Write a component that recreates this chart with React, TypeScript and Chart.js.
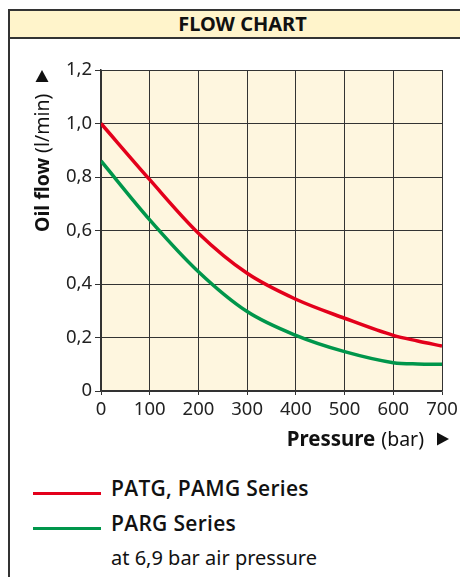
import React, { useEffect, useRef } from "react";
import { Chart, registerables } from "chart.js";

Chart.register(...registerables);

// ---- data ----
const pressure = [0, 100, 200, 300, 400, 500, 600, 650, 700];
const patgFlow = [1.0, 0.79, 0.59, 0.44, 0.343, 0.272, 0.208, 0.187, 0.168];
const pargFlow = [0.86, 0.64, 0.446, 0.297, 0.208, 0.147, 0.106, 0.101, 0.1];
const xTickLabels = ["0", "100", "200", "300", "400", "500", "600", "700"];
const yTickLabels = ["0", "0,2", "0,4", "0,6", "0,8", "1,0", "1,2"];
const seriesNames = ["PATG, PAMG Series", "PARG Series"];
const noteText = "at 6,9 bar air pressure";
const headerText = "FLOW CHART";
const xTitleBold = "Pressure";
const xTitleUnit = "(bar)";
const yTitleBold = "Oil flow";
const yTitleUnit = "(l/min)";

const RED = "#E3001B";
const GREEN = "#00964B";
const FAMILY = "'Noto Sans', 'DejaVu Sans', sans-serif";
const LEGEND_FAMILY = "'Open Sans', 'Noto Sans', sans-serif";
const TICK_FS = 18.5;
const TITLE_FS = 19.5;
const BORDER = "#333";
const PLOT_BG = "#FEF6DF";
const HEADER_BG = "#FFF4CB";

const CANVAS_W = 458;
const CANVAS_H = 422;

const bgPlugin = {
  id: "plotBg",
  beforeDraw(chart: any) {
    const { ctx, chartArea } = chart;
    ctx.save();
    ctx.fillStyle = PLOT_BG;
    ctx.fillRect(chartArea.left, chartArea.top, chartArea.right - chartArea.left, chartArea.bottom - chartArea.top);
    ctx.restore();
  },
};

const titlePlugin = {
  id: "axisTitles",
  afterDraw(chart: any) {
    const { ctx, chartArea } = chart;
    ctx.save();
    ctx.fillStyle = "#111";
    ctx.textBaseline = "alphabetic";
    // x title, right aligned with arrow
    const tipX = chartArea.right + 7;
    const triH = 12;
    const triB = 13;
    const baseY = chartArea.bottom + 55;
    const cy = baseY - 7;
    ctx.beginPath();
    ctx.moveTo(tipX, cy);
    ctx.lineTo(tipX - triH, cy - triB / 2);
    ctx.lineTo(tipX - triH, cy + triB / 2);
    ctx.closePath();
    ctx.fill();
    ctx.font = `${TITLE_FS}px ${FAMILY}`;
    const unitW = ctx.measureText(xTitleUnit).width;
    const endX = tipX - triH - 13;
    ctx.fillText(xTitleUnit, endX - unitW, baseY);
    ctx.font = `bold ${TITLE_FS + 1}px ${FAMILY}`;
    const boldW = ctx.measureText(xTitleBold).width;
    ctx.fillText(xTitleBold, endX - unitW - 6 - boldW, baseY);

    // y title, rotated
    const bx = chartArea.left - 52;
    const by = chartArea.top + 162;
    ctx.translate(bx, by);
    ctx.rotate(-Math.PI / 2);
    ctx.font = `bold ${TITLE_FS}px ${FAMILY}`;
    ctx.fillText(yTitleBold, 0, 0);
    const bw = ctx.measureText(yTitleBold).width + 5;
    ctx.font = `${TITLE_FS}px ${FAMILY}`;
    ctx.fillText(yTitleUnit, bw, 0);
    // arrow at top
    const tip = by - chartArea.top;
    ctx.beginPath();
    ctx.moveTo(tip, -7);
    ctx.lineTo(tip - triH, -7 - triB / 2);
    ctx.lineTo(tip - triH, -7 + triB / 2);
    ctx.closePath();
    ctx.fill();
    ctx.restore();
  },
};

export default function App() {
  const ref = useRef<HTMLCanvasElement | null>(null);
  useEffect(() => {
    document.documentElement.style.overflow = "hidden";
    document.body.style.overflow = "hidden";
    const canvas = ref.current!;
    const chart = new Chart(canvas, {
      type: "line",
      data: {
        datasets: [
          {
            label: seriesNames[0],
            data: pressure.map((x, i) => ({ x, y: patgFlow[i] })),
            borderColor: RED,
            borderWidth: 3.5,
            pointRadius: 0,
            cubicInterpolationMode: "monotone",
            fill: false,
          },
          {
            label: seriesNames[1],
            data: pressure.map((x, i) => ({ x, y: pargFlow[i] })),
            borderColor: GREEN,
            borderWidth: 3.5,
            pointRadius: 0,
            cubicInterpolationMode: "monotone",
            fill: false,
          },
        ],
      },
      options: {
        animation: false,
        responsive: false,
        maintainAspectRatio: false,
        layout: { padding: { top: 31, right: CANVAS_W - 432, left: 0, bottom: 0 } },
        plugins: { legend: { display: false }, tooltip: { enabled: false } },
        scales: {
          x: {
            type: "linear",
            min: 0,
            max: 700,
            ticks: {
              stepSize: 100,
              color: "#222",
              font: { family: FAMILY, size: TICK_FS },
              padding: 4,
              maxRotation: 0,
              callback: (_v: any, i: number) => xTickLabels[i],
            },
            grid: { color: BORDER, lineWidth: 1, tickLength: 4 },
            border: { color: BORDER, width: 1.5 },
            afterFit: (s: any) => {
              s.height = CANVAS_H - 352;
            },
          },
          y: {
            min: 0,
            max: 1.2,
            ticks: {
              stepSize: 0.2,
              color: "#222",
              font: { family: FAMILY, size: TICK_FS },
              padding: 3,
              callback: (_v: any, i: number) => yTickLabels[i],
            },
            grid: { color: BORDER, lineWidth: 1, tickLength: 6 },
            border: { color: BORDER, width: 1.5 },
            afterFit: (s: any) => {
              s.width = 91;
            },
          },
        },
      },
      plugins: [bgPlugin, titlePlugin],
    });
    return () => chart.destroy();
  }, []);

  const textBase: React.CSSProperties = {
    position: "absolute",
    fontFamily: FAMILY,
    fontSize: 20,
    lineHeight: "20px",
    whiteSpace: "nowrap",
    color: "#111",
  };
  const legendText: React.CSSProperties = {
    ...textBase,
    fontFamily: LEGEND_FAMILY,
    fontWeight: 600,
    fontSize: 21,
    lineHeight: "21px",
    letterSpacing: 0.3,
  };

  return (
    <div style={{ position: "relative", width: 460, height: 569, overflow: "hidden" }}>
      <div
        style={{
          position: "absolute",
          left: 0,
          top: 1,
          width: 469,
          height: 620,
          boxSizing: "border-box",
          border: `2px solid ${BORDER}`,
        }}
      >
        <div
          style={{
            height: 26,
            borderBottom: `2px solid ${BORDER}`,
            background: HEADER_BG,
            textAlign: "center",
            fontFamily: FAMILY,
            fontWeight: "bold",
            fontSize: 20,
            lineHeight: "26px",
            color: "#111",
          }}
        >
          {headerText}
        </div>
      </div>
      <canvas
        ref={ref}
        width={CANVAS_W}
        height={CANVAS_H}
        style={{ position: "absolute", left: 2, top: 31, width: CANVAS_W, height: CANVAS_H }}
      />
      <div style={{ position: "absolute", left: 25, top: 484, width: 68, height: 3, background: RED }} />
      <div style={{ ...legendText, left: 103, top: 470 }}>{seriesNames[0]}</div>
      <div style={{ position: "absolute", left: 25, top: 519, width: 68, height: 3, background: GREEN }} />
      <div style={{ ...legendText, left: 103, top: 505 }}>{seriesNames[1]}</div>
      <div style={{ ...textBase, left: 103, top: 540 }}>{noteText}</div>
    </div>
  );
}
